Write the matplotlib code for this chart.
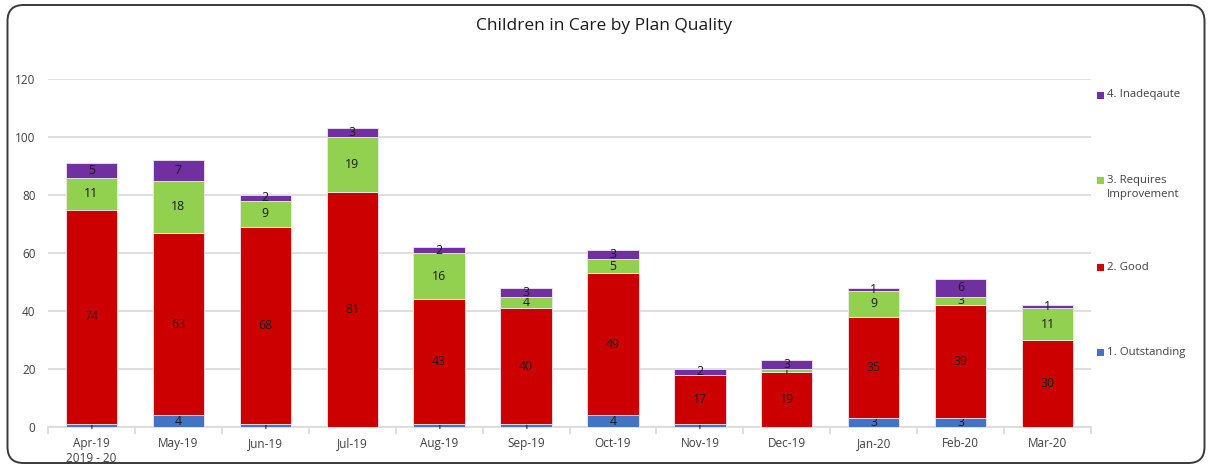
import matplotlib.pyplot as plt
import numpy as np
from matplotlib.patches import FancyBboxPatch, Rectangle

months = ['Apr-19\n2019 - 20', 'May-19', 'Jun-19', 'Jul-19', 'Aug-19', 'Sep-19',
          'Oct-19', 'Nov-19', 'Dec-19', 'Jan-20', 'Feb-20', 'Mar-20']
outstanding = [1, 4, 1, 0, 1, 1, 4, 1, 0, 3, 3, 0]
good = [74, 63, 68, 81, 43, 40, 49, 17, 19, 35, 39, 30]
requires_improvement = [11, 18, 9, 19, 16, 4, 5, 0, 1, 9, 3, 11]
inadequate = [5, 7, 2, 3, 2, 3, 3, 2, 3, 1, 6, 1]

series = [
    ('1. Outstanding', outstanding, '#4472C4'),
    ('2. Good', good, '#CC0000'),
    ('3. Requires\nImprovement', requires_improvement, '#92D050'),
    ('4. Inadeqaute', inadequate, '#7030A0'),
]

plt.rcParams['font.family'] = ['Open Sans', 'DejaVu Sans']

fig = plt.figure(figsize=(12.09, 4.66), dpi=100)
ax = fig.add_axes([48 / 1209, 1 - 427 / 466, (1091 - 48) / 1209, (427 - 79) / 466])

x = np.arange(len(months))
bottom = np.zeros(len(months))
for name, vals, color in series:
    vals = np.array(vals, dtype=float)
    bars = ax.bar(x, vals, width=0.59, bottom=bottom, color=color,
                  edgecolor='#f0e6f0', linewidth=0.6, zorder=3)
    labels = [str(int(v)) if v > 0 else '' for v in vals]
    ax.bar_label(bars, labels=labels, label_type='center', fontsize=8.8,
                 color='#1a1a1a')
    bottom += vals

ax.set_xlim(-0.5, len(months) - 0.5)
ax.set_ylim(0, 120)
ax.set_yticks(range(0, 121, 20))
ax.yaxis.grid(True, color='#D9D9D9', linewidth=1.2, zorder=0)
ax.set_axisbelow(True)
for side in ['top', 'right', 'left']:
    ax.spines[side].set_visible(False)
ax.spines['bottom'].set_color('#D9D9D9')
ax.spines['bottom'].set_linewidth(1.2)

ax.set_xticks(x)
ax.set_xticklabels(months, fontsize=8.5, color='#404040')
ax.set_xticks(np.arange(-0.5, len(months), 1), minor=True)
ax.tick_params(axis='x', which='major', length=0, pad=7)
ax.tick_params(axis='x', which='minor', length=5, color='#D9D9D9', width=1.2)
ax.tick_params(axis='y', length=0, pad=9, labelsize=8.5, labelcolor='#404040')

fig.text(0.5, 1 - 26 / 466, 'Children in Care by Plan Quality', ha='center',
         va='center', fontsize=12.5, color='#1a1a1a')

# legend on the right, one entry per series from top to bottom
legend_y = [95, 180, 267, 352]
for (name, vals, color), ypix in zip(reversed(series), legend_y):
    yf = 1 - ypix / 466
    fig.patches.append(Rectangle((1097 / 1209, yf - 3.5 / 466), 7 / 1209, 7 / 466,
                                 transform=fig.transFigure, facecolor=color,
                                 edgecolor='none'))
    fig.text(1107 / 1209, yf, name.split('\n')[0], ha='left', va='center',
             fontsize=8.2, color='#404040')
    if '\n' in name:
        fig.text(1107 / 1209, yf - 14 / 466, name.split('\n')[1], ha='left',
                 va='center', fontsize=8.2, color='#404040')

# rounded chart border
frame = FancyBboxPatch((0.075, 0.03), 11.97, 4.58,
                       boxstyle='round,pad=0,rounding_size=0.16',
                       transform=fig.dpi_scale_trans, facecolor='none',
                       edgecolor='#3a3a3a', linewidth=1.4)
fig.patches.append(frame)

fig.savefig('out.png', dpi=100)
